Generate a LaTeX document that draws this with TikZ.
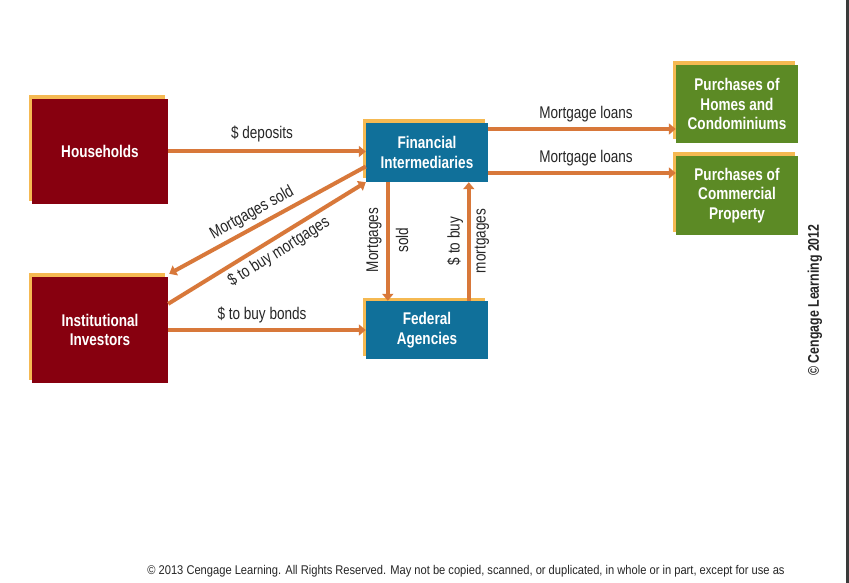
\documentclass[tikz,border=0pt]{standalone}
\usepackage{fontspec}
\setmainfont{Liberation Sans}[FakeStretch=0.8]
\newfontfamily\footfont{Liberation Sans}[FakeStretch=0.88]
\usetikzlibrary{arrows.meta,shadows}
\definecolor{maroonbox}{HTML}{87000F}
\definecolor{bluebox}{HTML}{10709A}
\definecolor{greenbox}{HTML}{5C8A25}
\definecolor{shadoworange}{HTML}{F5B952}
\definecolor{arrowc}{HTML}{D8783A}
\definecolor{edgegray}{HTML}{3A3A3A}
\begin{document}
\begin{tikzpicture}[x=1bp,y=-1bp,
  box/.style={draw=none, text=white, align=center, inner sep=0pt,
    font=\fontsize{17}{19.5}\selectfont\bfseries,
    general shadow={fill=shadoworange, shadow xshift=-3bp, shadow yshift=3.5bp}},
  flow/.style={draw=arrowc, line width=4bp, -{Triangle[length=7bp,width=11bp]}},
  lbl/.style={inner sep=0pt, font=\fontsize{17}{19}\selectfont, text=black!85}]
\useasboundingbox (0,0) rectangle (849,583);
\fill[white] (0,0) rectangle (849,583);
\fill[edgegray] (846,0) rectangle (849,583);

\node[box, fill=maroonbox, minimum width=136bp, minimum height=105bp] (hh) at (100,151.5) {Households};
\node[box, fill=maroonbox, minimum width=136bp, minimum height=106bp] (inst) at (100,330) {Institutional\\Investors};
\node[box, fill=bluebox, minimum width=122bp, minimum height=59bp] (fi) at (427,152.5) {Financial\\Intermediaries};
\node[box, fill=bluebox, minimum width=122bp, minimum height=58bp] (fed) at (427,330) {Federal\\Agencies};
\node[box, fill=greenbox, minimum width=122bp, minimum height=78bp] (homes) at (737,104) {Purchases of\\Homes and\\Condominiums};
\node[box, fill=greenbox, minimum width=122bp, minimum height=79bp] (comm) at (737,195.5) {Purchases of\\Commercial\\Property};

% horizontal flows
\draw[flow] (hh.east) -- (hh.east -| fi.west);
\draw[flow] (inst.east) -- (inst.east -| fed.west);
\draw[flow] ([yshift=23.5bp]fi.east) -- ([yshift=23.5bp]fi.east -| homes.west);
\draw[flow] ([yshift=-20.5bp]fi.east) -- ([yshift=-20.5bp]fi.east -| comm.west);

% diagonal flows
\draw[flow] ([yshift=-14bp]fi.west) -- ([xshift=1bp,yshift=3bp]inst.north east);
\draw[flow] ([yshift=-27bp]inst.north east) -- (fi.south west);

% vertical flows
\draw[flow] ([xshift=22bp]fi.south west) -- ([xshift=22bp]fed.north west);
\draw[flow] ([xshift=103bp]fed.north west) -- ([xshift=103bp]fi.south west);

% labels
\node[lbl] (ldep) at (262,134) {\$ deposits};
\node[lbl] (lbonds) at (262,315) {\$ to buy bonds};
\node[lbl] (lml1) at (586,114) {Mortgage loans};
\node[lbl] (lml2) at (586,158) {Mortgage loans};
\node[lbl, rotate=29] (lms) at (252,213) {Mortgages sold};
\node[lbl, rotate=32] (lbm) at (279,252) {\$ to buy mortgages};
\node[lbl, rotate=90] (lv1) at (374,240) {Mortgages};
\node[lbl, rotate=90] (lv2) at (402,240) {sold};
\node[lbl, rotate=90] (lv3) at (455,241) {\$ to buy};
\node[lbl, rotate=90] (lv4) at (482,241) {mortgages};

\node[inner sep=0pt, rotate=90, font=\fontsize{15.5}{17}\selectfont\bfseries, text=black!85] (cr) at (815,300) {\char"00A9\ Cengage Learning 2012};
\node[inner sep=0pt, font=\footfont\fontsize{12.7}{14}\selectfont, text=black!85] (foot) at (466,571) {\char"00A9\ 2013 Cengage Learning. All Rights Reserved. May not be copied, scanned, or duplicated, in whole or in part, except for use as};
\end{tikzpicture}
\end{document}
